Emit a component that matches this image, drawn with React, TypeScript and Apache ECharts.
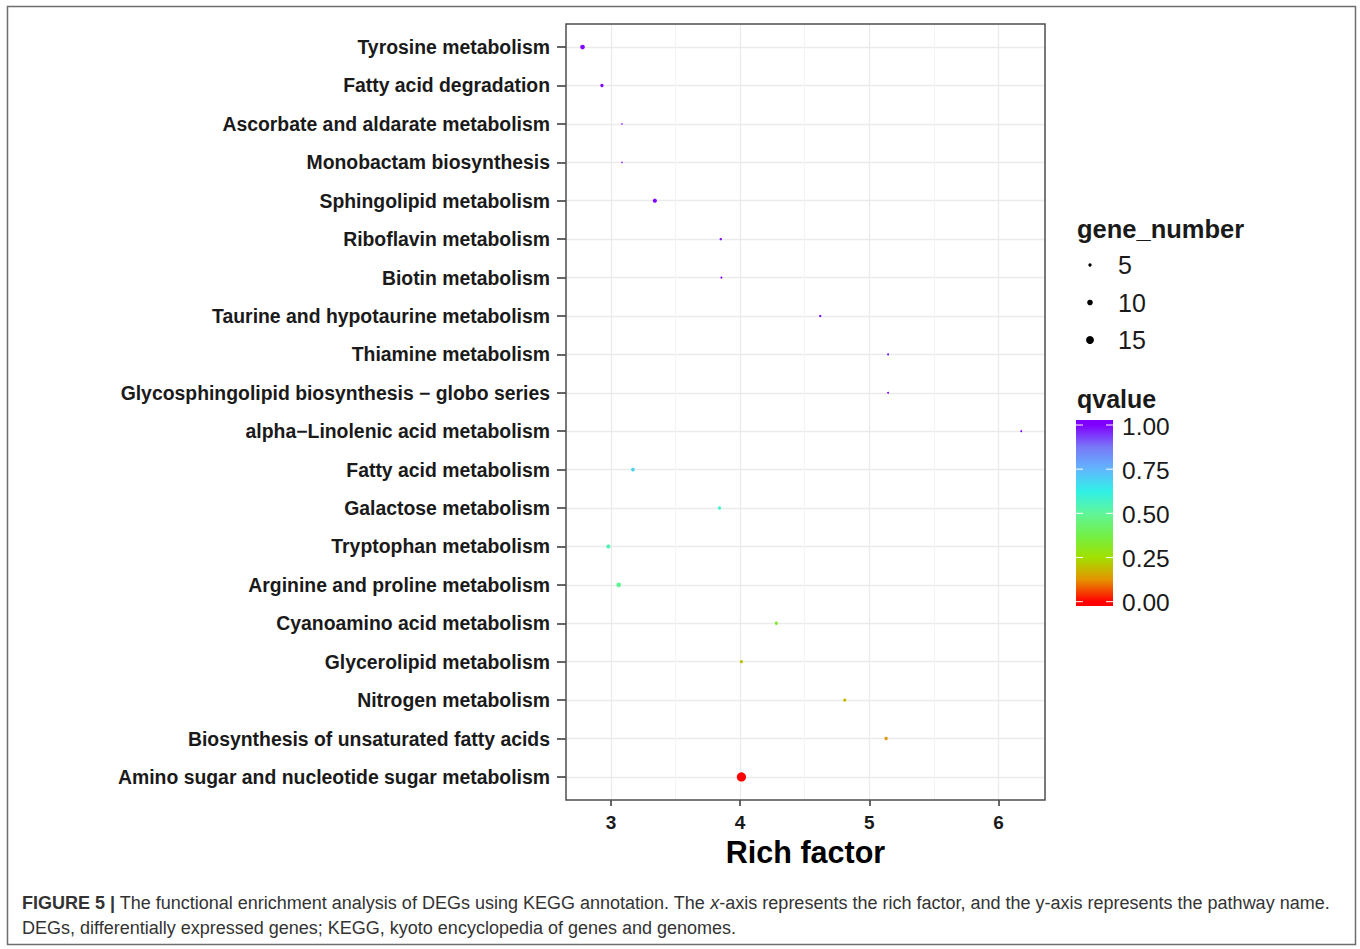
import React, { useEffect, useRef } from "react";
import * as echarts from "echarts";

const pathways = [
  "Tyrosine metabolism",
  "Fatty acid degradation",
  "Ascorbate and aldarate metabolism",
  "Monobactam biosynthesis",
  "Sphingolipid metabolism",
  "Riboflavin metabolism",
  "Biotin metabolism",
  "Taurine and hypotaurine metabolism",
  "Thiamine metabolism",
  "Glycosphingolipid biosynthesis \u2212 globo series",
  "alpha\u2212Linolenic acid metabolism",
  "Fatty acid metabolism",
  "Galactose metabolism",
  "Tryptophan metabolism",
  "Arginine and proline metabolism",
  "Cyanoamino acid metabolism",
  "Glycerolipid metabolism",
  "Nitrogen metabolism",
  "Biosynthesis of unsaturated fatty acids",
  "Amino sugar and nucleotide sugar metabolism",
];
const richFactor = [2.78, 2.93, 3.085, 3.085, 3.34, 3.85, 3.855, 4.62, 5.145, 5.145, 6.176, 3.17, 3.84, 2.98, 3.06, 4.28, 4.01, 4.81, 5.13, 4.01];
const qvalue = [0.99, 0.99, 1.0, 1.0, 0.99, 0.99, 1.0, 0.99, 1.0, 1.0, 1.0, 0.69, 0.58, 0.54, 0.49, 0.33, 0.2, 0.19, 0.13, 0.0];
const geneNumber = [8, 5, 1, 1, 7, 3, 2, 3, 2, 2, 2, 6, 5, 7, 8, 5, 5, 5, 5, 18];

const xTicks = [3, 4, 5, 6];
const xMinorTicks = [3.5, 4.5, 5.5];
const sizeBreaks = [5, 10, 15];
const qBreaks = [1.0, 0.75, 0.5, 0.25, 0.0];
const rainbow = ["#FF0000", "#E59400", "#A2E000", "#72F048", "#60F59A", "#30F0E6", "#62B6FF", "#7878F6", "#8000FF"];

const FONT = "'Liberation Sans', Arial, Helvetica, sans-serif";
const symSize = (n: number) => 0.46 * n + 1.0;

// layout
const PL = 566, PR = 1045, PT = 24, PB = 800;
const unit = (PB - PT) / (pathways.length - 1 + 1.2);
const X_MIN = 2.652, X_MAX = 6.36;

export default function App() {
  const ref = useRef<HTMLDivElement>(null);
  useEffect(() => {
    const chart = echarts.init(ref.current!, null, { renderer: "svg" });
    const data = pathways.map((p, i) => [richFactor[i], p, qvalue[i], geneNumber[i]]);

    // colorbar geometry
    const cbX = 1076, cbW = 37, cbTop = 420, cbBot = 606, vTop = 425, vBot = 601.7;
    const stops = rainbow.map((c, i) => {
      const v = i / (rainbow.length - 1);
      const y = vTop + (1 - v) * (vBot - vTop);
      return { offset: (y - cbTop) / (cbBot - cbTop), color: c };
    }).reverse();
    const cbStops = [{ offset: 0, color: rainbow[rainbow.length - 1] }, ...stops, { offset: 1, color: rainbow[0] }];

    const graphics: any[] = [
      {
        type: "rect", z: 0, silent: true,
        shape: { x: 7.5, y: 6.5, width: 1348, height: 938 },
        style: { fill: "none", stroke: "#6e6e6e", lineWidth: 1.5 },
      },
      {
        type: "rect", z: 100, silent: true,
        shape: { x: PL, y: PT, width: PR - PL, height: PB - PT },
        style: { fill: "none", stroke: "#4d4d4d", lineWidth: 1.5 },
      },
      {
        type: "text", x: 1077, y: 229, z: 100,
        style: { text: "gene_number", font: `bold 25.5px ${FONT}`, fill: "#1a1a1a", verticalAlign: "middle" },
      },
      {
        type: "text", x: 1077, y: 399, z: 100,
        style: { text: "qvalue", font: `bold 25px ${FONT}`, fill: "#1a1a1a", verticalAlign: "middle" },
      },
      {
        type: "rect", z: 100, silent: true,
        shape: { x: cbX, y: cbTop, width: cbW, height: cbBot - cbTop },
        style: { fill: new echarts.graphic.LinearGradient(0, 0, 0, 1, cbStops) },
      },
    ];
    sizeBreaks.forEach((n, i) => {
      const y = 265 + i * 37.5;
      graphics.push({
        type: "circle", z: 100, silent: true,
        shape: { cx: 1090, cy: y, r: symSize(n) / 2 },
        style: { fill: "#000" },
      });
      graphics.push({
        type: "text", z: 100, x: 1118, y: y,
        style: { text: String(n), font: `25px ${FONT}`, fill: "#1a1a1a", verticalAlign: "middle" },
      });
    });
    qBreaks.forEach((q) => {
      const y = vTop + (1 - q) * (vBot - vTop);
      graphics.push({
        type: "line", z: 101, silent: true,
        shape: { x1: cbX, y1: y, x2: cbX + 7, y2: y },
        style: { stroke: "#fff", lineWidth: 1 },
      });
      graphics.push({
        type: "line", z: 101, silent: true,
        shape: { x1: cbX + cbW - 7, y1: y, x2: cbX + cbW, y2: y },
        style: { stroke: "#fff", lineWidth: 1 },
      });
      graphics.push({
        type: "text", z: 100, x: 1122, y: y + 1,
        style: { text: q.toFixed(2), font: `24.5px ${FONT}`, fill: "#1a1a1a", verticalAlign: "middle" },
      });
    });
    graphics.push({
      type: "text", z: 100, x: 22, y: 903,
      style: {
        text: "{b|FIGURE 5 |} The functional enrichment analysis of DEGs using KEGG annotation. The {i|x}-axis represents the rich factor, and the y-axis represents the pathway name.",
        font: `18px ${FONT}`, fill: "#333", verticalAlign: "middle",
        rich: {
          b: { font: `bold 18px ${FONT}`, fill: "#333" },
          i: { font: `italic 18px ${FONT}`, fill: "#333" },
        },
      },
    });
    graphics.push({
      type: "text", z: 100, x: 22, y: 928,
      style: {
        text: "DEGs, differentially expressed genes; KEGG, kyoto encyclopedia of genes and genomes.",
        font: `18px ${FONT}`, fill: "#333", verticalAlign: "middle",
      },
    });

    chart.setOption({
      animation: false,
      backgroundColor: "#fff",
      grid: [
        { left: PL, top: PT, width: PR - PL, height: PB - PT, show: true, backgroundColor: "#fff", borderWidth: 0 },
        { left: PL, top: PT + 0.6 * unit, width: PR - PL, height: (pathways.length - 1) * unit },
      ],
      xAxis: [
        {
          type: "value", gridIndex: 0, min: X_MIN, max: X_MAX,
          axisLine: { show: false },
          axisTick: { show: true, length: 6, lineStyle: { color: "#333", width: 1.5 }, customValues: xTicks },
          axisLabel: { customValues: xTicks, fontFamily: FONT, fontWeight: "bold", fontSize: 19, color: "#1a1a1a", margin: 13 },
          splitLine: { show: true, lineStyle: { color: "#EBEBEB", width: 1.3 } },
          name: "Rich factor", nameLocation: "middle", nameGap: 35,
          nameTextStyle: { fontFamily: FONT, fontWeight: "bold", fontSize: 30.5, color: "#000" },
        },
        {
          type: "value", gridIndex: 0, min: X_MIN, max: X_MAX,
          axisLine: { show: false },
          axisTick: { show: false, customValues: xMinorTicks },
          axisLabel: { show: false, customValues: xMinorTicks },
          splitLine: { show: true, lineStyle: { color: "#F4F4F4", width: 1 } },
        },
        {
          type: "value", gridIndex: 1, min: X_MIN, max: X_MAX, show: false,
          splitLine: { show: false },
        },
      ],
      yAxis: [
        { type: "value", gridIndex: 0, show: false, splitLine: { show: false } },
        {
          type: "category", gridIndex: 1, data: pathways, inverse: true, boundaryGap: false,
          axisLine: { show: false },
          axisTick: { show: true, length: 9, lineStyle: { color: "#333", width: 1.5 }, alignWithLabel: true },
          axisLabel: { fontFamily: FONT, fontWeight: "bold", fontSize: 19.4, color: "#1a1a1a", margin: 16, interval: 0 },
          splitLine: { show: true, lineStyle: { color: "#EBEBEB", width: 1.4 } },
        },
      ],
      visualMap: [
        {
          type: "continuous", show: false, dimension: 2, min: 0, max: 1, seriesIndex: 0,
          inRange: { color: rainbow },
        },
      ],
      series: [
        {
          type: "scatter", xAxisIndex: 2, yAxisIndex: 1,
          data,
          encode: { x: 0, y: 1 },
          symbolSize: (val: any) => symSize(val[3]),
          itemStyle: { opacity: 1 },
          z: 10,
        },
      ],
      graphic: graphics,
    });
    return () => chart.dispose();
  }, []);
  return <div ref={ref} style={{ position: "fixed", left: 0, top: 0, width: 1360, height: 949 }} />;
}
